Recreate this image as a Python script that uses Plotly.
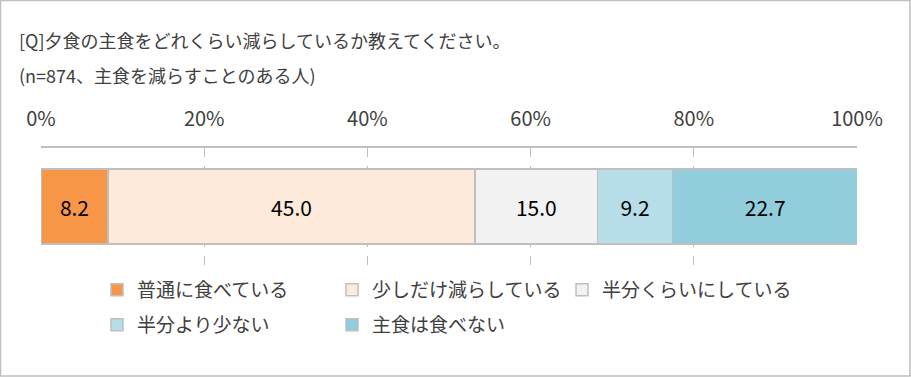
import plotly.graph_objects as go

categories = ["普通に食べている", "少しだけ減らしている", "半分くらいにしている", "半分より少ない", "主食は食べない"]
values = [8.2, 45.0, 15.0, 9.2, 22.7]
colors = ["#F79646", "#FDEADA", "#F2F2F2", "#B7DEE8", "#92CDDC"]
tick_vals = [0, 20, 40, 60, 80, 100]
tick_text = ["0%", "20%", "40%", "60%", "80%", "100%"]
title_lines = ["[Q]夕食の主食をどれくらい減らしているか教えてください。", "(n=874、主食を減らすことのある人)"]

W, H = 911, 377
ML, MR, MT, MB = 41, 54, 148, 112
PW, PH = W - ML - MR, H - MT - MB

FONT = "Noto Sans CJK JP"

def px_x(px):
    return (px - ML) / PW

def px_y(py):
    return (H - MB - py) / PH

legend_names = ["legend", "legend2", "legend3", "legend4", "legend5"]
legend_pos = [(97, 290), (332, 290), (562, 290), (97, 325), (332, 325)]

fig = go.Figure()
for i, (c, v, col) in enumerate(zip(categories, values, colors)):
    fig.add_trace(go.Bar(
        x=[v], y=["q"], orientation="h", name=c,
        marker=dict(color=col, line=dict(color="#BFBFBF", width=1.5)),
        text=[f"{v:.1f}"], textposition="inside", insidetextanchor="middle",
        textfont=dict(size=21, color="#000000", family=FONT),
        legend=legend_names[i],
        hoverinfo="skip",
    ))

legend_layout = {}
for name, (lx, ly) in zip(legend_names, legend_pos):
    legend_layout[name] = dict(
        orientation="h", x=px_x(lx), y=px_y(ly), xanchor="left", yanchor="middle",
        font=dict(size=19, color="#404040", family=FONT), itemwidth=30,
        bgcolor="rgba(0,0,0,0)",
    )

fig.update_layout(
    width=W, height=H,
    margin=dict(l=ML, r=MR, t=MT, b=MB),
    paper_bgcolor="white", plot_bgcolor="white",
    barmode="stack", bargap=0.36,
    font=dict(family=FONT, size=17, color="#404040"),
    xaxis=dict(
        range=[0, 100], side="top", tickvals=tick_vals, ticktext=tick_text,
        showgrid=True, gridcolor="#BFBFBF", griddash="dash", gridwidth=1,
        zeroline=False, showline=True, linecolor="#BFBFBF", linewidth=1.5,
        tickfont=dict(size=20, color="#404040", family=FONT), ticks="", ticklabelstandoff=12,
        fixedrange=True,
    ),
    yaxis=dict(showticklabels=False, showgrid=False, zeroline=False,
               showline=False, fixedrange=True),
    showlegend=True,
    **legend_layout,
)

for i, t in enumerate(title_lines):
    fig.add_annotation(text=t, xref="paper", yref="paper",
                       x=px_x(17), y=px_y(40 + 35 * i), xanchor="left", yanchor="middle",
                       showarrow=False, font=dict(size=18, color="#404040", family=FONT))

fig.add_shape(type="rect", xref="paper", yref="paper",
              x0=px_x(0.5), x1=px_x(910), y0=px_y(376), y1=px_y(0.5),
              line=dict(color="#BFBFBF", width=1.5), fillcolor="rgba(0,0,0,0)", layer="below")

fig.write_html("out.html")
